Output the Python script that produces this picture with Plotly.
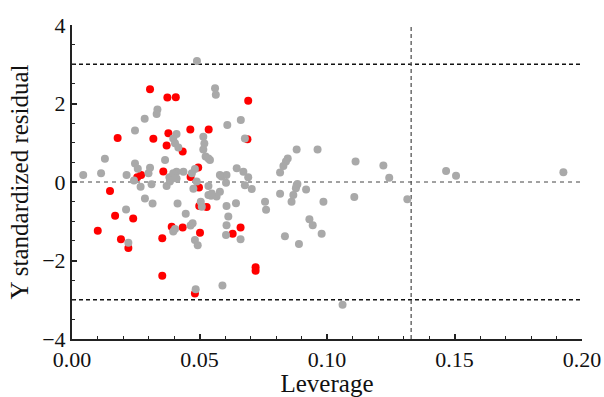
import plotly.graph_objects as go

# ---- data ----
red_leverage = [0.0306, 0.0374, 0.0407, 0.0464, 0.0536, 0.0179, 0.0319, 0.0378, 0.0371, 0.0434,
                0.0691, 0.0688, 0.0271, 0.0256, 0.0358, 0.0495, 0.0465, 0.0149, 0.0498, 0.0499,
                0.0528, 0.0169, 0.0240, 0.0101, 0.0192, 0.0221, 0.0354, 0.0391, 0.0434, 0.0502,
                0.0354, 0.0482, 0.0630, 0.0661, 0.0720, 0.0720]
red_residual = [2.36, 2.15, 2.16, 1.34, 1.34, 1.12, 1.10, 1.24, 0.93, 0.78,
                2.07, 1.09, 0.18, 0.12, 0.27, 0.37, 0.13, -0.23, -0.14, -0.61,
                -0.64, -0.86, -0.93, -1.24, -1.46, -1.68, -1.43, -1.14, -1.16, -1.29,
                -2.39, -2.84, -1.32, -1.16, -2.17, -2.26]

gray_leverage = [0.0490, 0.0335, 0.0332, 0.0285, 0.0247, 0.0410, 0.0397, 0.0404, 0.0417, 0.0515,
                 0.0519, 0.0515, 0.0524, 0.0129, 0.0365, 0.0247, 0.0258, 0.0306, 0.0300, 0.0114,
                 0.0044, 0.0214, 0.0382, 0.0410, 0.0437, 0.0482, 0.0489, 0.0269, 0.0312, 0.0371,
                 0.0286, 0.0243, 0.0384, 0.0476, 0.0316, 0.0414, 0.0505, 0.0509, 0.0535, 0.0212,
                 0.0446, 0.0221, 0.0397, 0.0404, 0.0465, 0.0473, 0.0482, 0.0493, 0.0485, 0.0561,
                 0.0564, 0.0609, 0.0662, 0.0678, 0.0541, 0.0587, 0.0606, 0.0604, 0.0646, 0.0672,
                 0.0691, 0.0678, 0.0705, 0.0580, 0.0545, 0.0881, 0.0963, 0.0846, 0.0839, 0.0829,
                 0.0816, 0.1112, 0.0881, 0.0918, 0.0816, 0.1107, 0.0535, 0.0606, 0.0643, 0.0613,
                 0.0606, 0.0604, 0.0661, 0.0590, 0.1061, 0.0757, 0.0761, 0.0861, 0.0868, 0.0878,
                 0.0884, 0.0986, 0.0931, 0.0944, 0.0979, 0.0835, 0.0890, 0.1221, 0.1244, 0.1315,
                 0.1467, 0.1506, 0.1927, 0.0397, 0.0384, 0.0410, 0.0535, 0.0567, 0.0580, 0.0470,
                 0.0548]
gray_residual = [3.08, 1.85, 1.73, 1.61, 1.31, 1.22, 1.11, 0.99, 0.88, 1.15,
                 0.98, 0.83, 0.65, 0.59, 0.56, 0.47, 0.34, 0.36, 0.22, 0.22,
                 0.18, 0.18, 0.12, 0.26, 0.26, 0.33, 0.01, -0.12, -0.06, -0.10,
                 -0.42, 0.04, 0.01, -0.17, -0.55, -0.55, -0.50, -0.63, -0.33, -0.70,
                 -0.81, -1.55, -1.26, -1.20, -1.11, -1.05, -1.48, -1.61, -2.73, 2.39,
                 2.22, 1.45, 1.58, 1.11, 0.56, 0.14, 0.18, -0.02, 0.35, 0.26,
                 0.12, -0.08, -0.18, -0.25, -0.35, 0.83, 0.83, 0.60, 0.52, 0.41,
                 0.24, 0.52, -0.08, -0.19, -0.30, -0.38, -0.10, -0.61, -0.54, -0.88,
                 -1.10, -1.35, -1.46, -2.64, -3.13, -0.50, -0.71, -0.50, -0.33, -0.16,
                 -0.05, -0.50, -0.95, -1.10, -1.32, -1.38, -1.58, 0.42, 0.11, -0.44,
                 0.28, 0.16, 0.25, 0.22, 0.05, 0.09, 0.60, -0.37, 0.18, 0.22,
                 -0.29]

h_star = 0.133          # warning leverage
resid_limit = 3         # +/- standardized residual limit
x_range = [0.0, 0.20]
y_range = [-4, 4]

FONT = "Liberation Serif"

fig = go.Figure()
fig.add_trace(go.Scatter(x=red_leverage, y=red_residual, mode="markers",
                         marker=dict(color="#FF0000", size=8, line=dict(width=0)),
                         showlegend=False, hoverinfo="skip", cliponaxis=False))
fig.add_trace(go.Scatter(x=gray_leverage, y=gray_residual, mode="markers",
                         marker=dict(color="#A9A9A9", size=8, line=dict(width=0)),
                         showlegend=False, hoverinfo="skip", cliponaxis=False))

# reference lines
for yv in (resid_limit, -resid_limit):
    fig.add_shape(type="line", xref="x", yref="y", x0=x_range[0], x1=x_range[1], y0=yv, y1=yv,
                  line=dict(color="#111111", width=1.7, dash="4px,3px"), layer="below")
fig.add_shape(type="line", xref="x", yref="y", x0=x_range[0], x1=x_range[1], y0=0, y1=0,
              line=dict(color="#444444", width=1, dash="4px,4px"), layer="below")
fig.add_shape(type="line", xref="x", yref="y", x0=h_star, x1=h_star, y0=y_range[0], y1=y_range[1],
              line=dict(color="#555555", width=1.3, dash="4px,3px"), layer="below")

fig.update_layout(
    width=604, height=397,
    margin=dict(l=72, r=22, t=25, b=58),
    paper_bgcolor="white", plot_bgcolor="white",
    font=dict(family=FONT, color="#111111"),
)
fig.update_xaxes(
    range=x_range, dtick=0.05, tick0=0, tickformat=".2f", automargin=False,
    showgrid=False, zeroline=False,
    showline=True, linecolor="#222222", linewidth=2,
    ticks="inside", ticklen=5, tickwidth=1.5, tickcolor="#222222",
    minor=dict(dtick=0.01, ticks="inside", ticklen=3, tickwidth=1.2, tickcolor="#222222"),
    tickfont=dict(family=FONT, size=22, color="#111111"),
    title=dict(text="Leverage", font=dict(family=FONT, size=25, color="#111111"), standoff=12),
)
fig.update_yaxes(
    range=y_range, dtick=2, tick0=0, automargin=False,
    showgrid=False, zeroline=False,
    showline=True, linecolor="#222222", linewidth=2,
    ticks="inside", ticklen=5, tickwidth=1.5, tickcolor="#222222",
    minor=dict(dtick=0.5, ticks="inside", ticklen=3, tickwidth=1.2, tickcolor="#222222"),
    tickfont=dict(family=FONT, size=22, color="#111111"),
    title=dict(text="Y standardized residual", font=dict(family=FONT, size=25, color="#111111"), standoff=6),
)

fig.write_html("out.html")
